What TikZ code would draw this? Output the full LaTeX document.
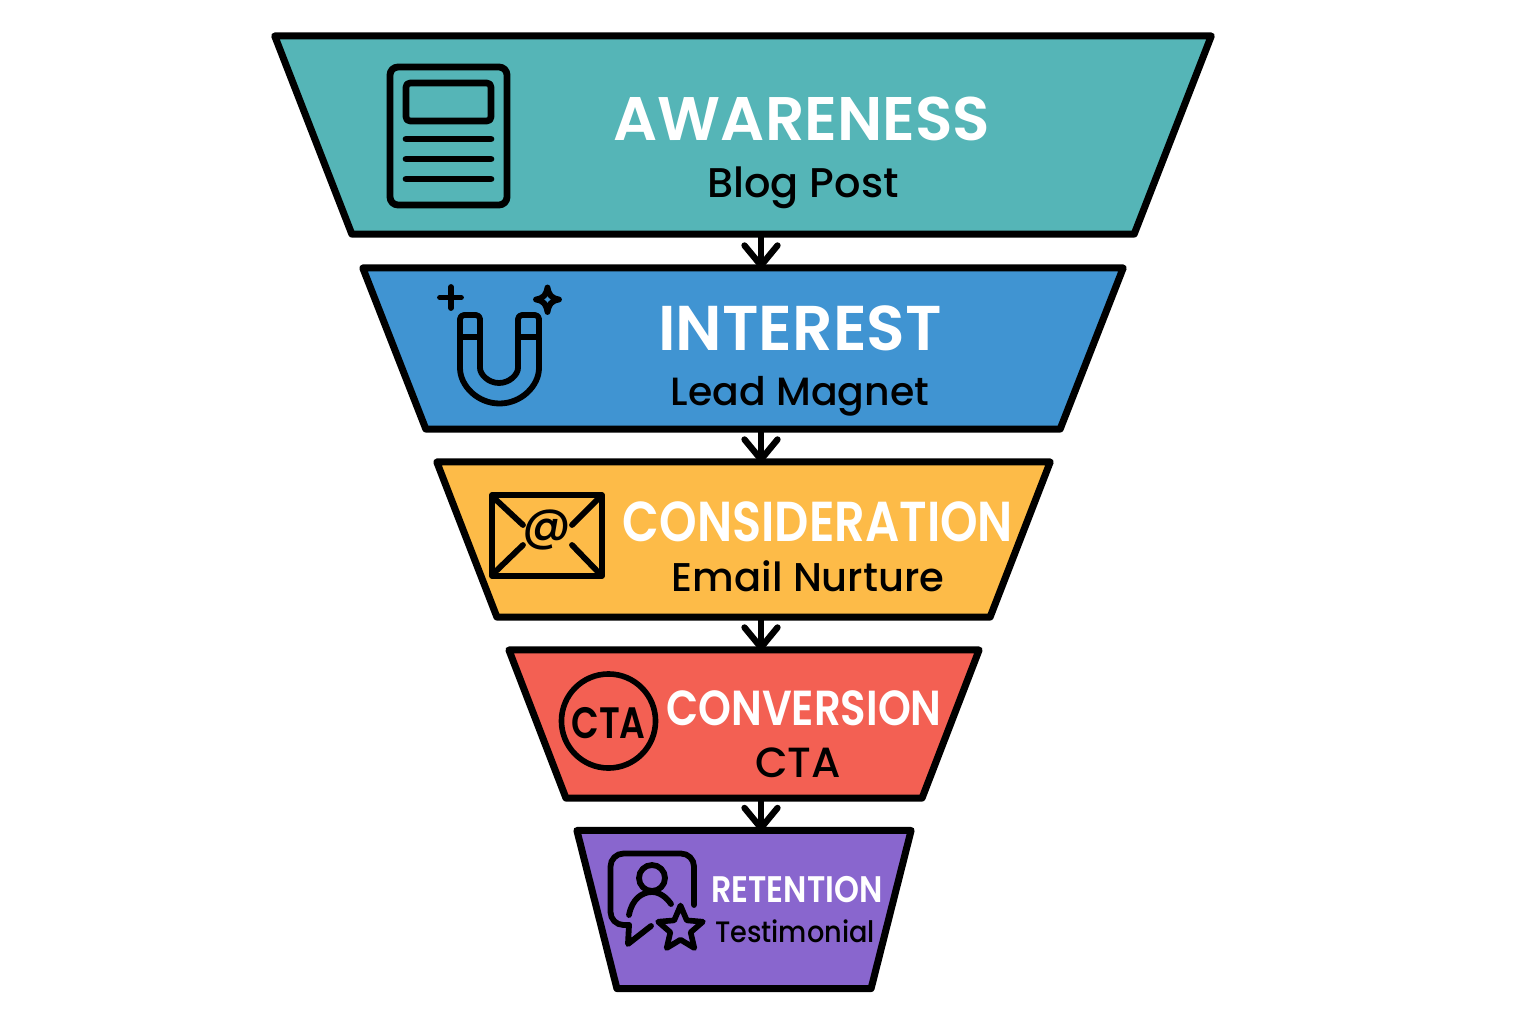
\documentclass[tikz,border=0pt]{standalone}
\usepackage{fontspec}
\setmainfont{Poppins}
\newfontfamily\subfont{Poppins Medium}
\newfontfamily\headfont{Poppins SemiBold}
\usetikzlibrary{arrows.meta}
\usetikzlibrary{calc}
\usetikzlibrary{positioning}
\usetikzlibrary{shapes.geometric}
\tikzset{
	funnel/.style={trapezium, shape border rotate=180, trapezium stretches=true, draw=black, line width=2pt, line join=round, inner sep=2pt},
	titletext/.style={text=white, anchor=base, font=\headfont\fontsize{#1}{#1}\selectfont, inner sep=0pt},
	subtext/.style={text=black, anchor=base, font=\subfont\fontsize{#1}{#1}\selectfont, inner sep=0pt},
	icon/.style={draw=black, line width=1.65pt, line cap=round, line join=round}
}
\definecolor{tealfill}{HTML}{55B5B7}
\definecolor{bluefill}{HTML}{4094D2}
\definecolor{yellowfill}{HTML}{FDBB48}
\definecolor{redfill}{HTML}{F36053}
\definecolor{purplefill}{HTML}{8966CE}
\begin{document}
\begin{tikzpicture}[x=0.01cm,y=-0.01cm]
	\useasboundingbox (0,0) rectangle (1536,1024);
	\coordinate (axis) at (761,0);

	\begin{scope}[every node/.style={funnel}]
		\node[fill=tealfill, minimum width=9.36cm, minimum height=1.98cm, trapezium angle=84.37] (awareness) at (743,135) {};
		\node[fill=bluefill, minimum width=7.60cm, minimum height=1.61cm, trapezium angle=84.32] (interest) at (743,348.5) {};
		\node[fill=yellowfill, minimum width=6.13cm, minimum height=1.55cm, trapezium angle=83.05] (consideration) at (743.5,539.5) {};
		\node[fill=redfill, minimum width=4.70cm, minimum height=1.48cm, trapezium angle=80.9] (conversion) at (744,724) {};
		\node[fill=purplefill, minimum width=3.34cm, minimum height=1.58cm, trapezium angle=81.05] (retention) at (744,909.5) {};
	\end{scope}

	\begin{scope}[>={Straight Barb[length=2mm,width=3.3mm,round]},
	              every edge/.style={draw=black, line width=1.8pt, line cap=round, line join=round, shorten >=-1.2pt}]
		\path (axis |- awareness.south) edge[->] (axis |- interest.north);
		\path (axis |- interest.south) edge[->] (axis |- consideration.north);
		\path (axis |- consideration.south) edge[->] (axis |- conversion.north);
		\path (axis |- conversion.south) edge[->] (axis |- retention.north);
	\end{scope}

	\node[titletext=17.5] (awarenesstitle) at (802,140) {AWARENESS};
	\node[subtext=11.8] (awarenesssub) at (803,197) {Blog Post};
	\node[titletext=18] (interesttitle) at (800,350) {INTEREST};
	\node[subtext=11.2] (interestsub) at (800,405) {Lead Magnet};
	\node[titletext=16] (considerationtitle) at (818,541) {\scalebox{.85}[1]{CONSIDERATION}};
	\node[subtext=11.4] (considerationsub) at (808,591) {Email Nurture};
	\node[titletext=14] (conversiontitle) at (804,725) {\scalebox{.85}[1]{CONVERSION}};
	\node[subtext=12] (conversionsub) at (798,777) {CTA};
	\node[titletext=10.5] (retentiontitle) at (797,902) {\scalebox{.86}[1]{RETENTION}};
	\node[subtext=8.4] (retentionsub) at (795,942) {\scalebox{.92}[1]{Testimonial}};

	% document
	\draw[icon, line width=1.95pt, rounded corners=0.8mm] (390,67) rectangle (507,205);
	\draw[icon, line width=1.9pt, rounded corners=0.4mm] (406,83) rectangle (491,121);
	\foreach \y in {139,159,179}
		\draw[icon, line width=1.9pt] (406,\y) -- (491,\y);

	% magnet
	\draw[icon, rounded corners=0.4mm] (460,315) -- (460,364) arc[start angle=180,end angle=0,radius=39.5] -- (539,315) -- (518,315) -- (518,364) arc[start angle=0,end angle=180,radius=19] -- (480,315) -- cycle;
	\draw[icon] (460,337) -- (480,337);
	\draw[icon] (518,337) -- (539,337);
	\draw[icon] (451,287) -- (451,308);
	\draw[icon] (440,297.5) -- (461,297.5);
	\draw[icon] (547.5,287.5) .. controls (549,295) and (551,298) .. (559,299.5) .. controls (551,301) and (549,304) .. (547.5,312) .. controls (546,304) and (544,301) .. (536,299.5) .. controls (544,298) and (546,295) .. cycle;

	% envelope
	\draw[icon, line cap=butt] (492,495) rectangle (602,576);
	\draw[icon] (493,497) -- (523,525);
	\draw[icon] (600,497) -- (572,525);
	\draw[icon] (493,574) -- (523,545);
	\draw[icon] (600,574) -- (572,545);
	\node[inner sep=0pt, font=\subfont\fontsize{13.5}{13.5}\selectfont] (atsign) at (547,530) {@};

	% badge
	\node[circle, draw=black, line width=1.6pt, minimum size=0.94cm, inner sep=0pt] (badge) at (608.5,721) {};
	\node[inner sep=0pt, anchor=base, font=\headfont\fontsize{12.5}{12.5}\selectfont] (badgetext) at (608.5,738) {\scalebox{.82}[1]{CTA}};

	% testimonial
	\draw[icon, rounded corners=1.3mm] (694,905) -- (694,853.5) -- (610.5,853.5) -- (610.5,925) -- (629,925);
	\draw[icon] (629,925) -- (628,944) -- (651,926);
	\draw[icon] (652,878) circle (13);
	\draw[icon] (629,915) .. controls (632,899) and (642,892) .. (652,892) .. controls (660,892) and (667,898) .. (671,904);
	\node[star, star points=5, star point ratio=2.2, draw=black, line width=1.6pt, line join=round, minimum size=0.47cm, inner sep=0pt] (starbadge) at (680.5,929) {};
\end{tikzpicture}
\end{document}
